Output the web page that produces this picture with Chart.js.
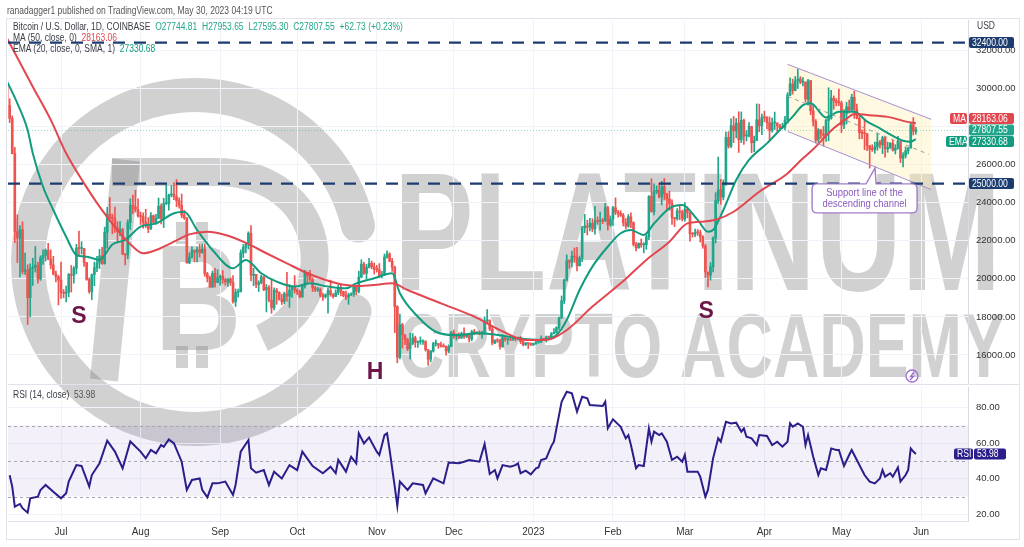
<!DOCTYPE html>
<html lang="en">
<head>
<meta charset="UTF-8">
<title>Bitcoin / U.S. Dollar, 1D, COINBASE</title>
<script src="https://cdn.jsdelivr.net/npm/chart.js@4.4.0/dist/chart.umd.min.js"></script>
<style>
  html, body { margin: 0; padding: 0; background: #fff; }
  body {
    width: 1024px; height: 547px; position: relative; overflow: hidden;
    font-family: 'Liberation Sans', Arial, sans-serif; color: #131722;
  }
  #wm { position: absolute; left: 0; top: 0; z-index: 0; }
  .frame { position: absolute; left: 6px; top: 18px; width: 1014px; height: 522px; border: 1px solid #e0e3eb; box-sizing: border-box; z-index: 1; }
  #priceBox { position: absolute; left: 8px; top: 20px; width: 1012px; height: 365px; z-index: 2; }
  #rsiBox { position: absolute; left: 8px; top: 387px; width: 1012px; height: 153px; z-index: 2; }
  .txt { position: absolute; white-space: nowrap; font-size: 10px; line-height: 12px; z-index: 3; color: #3a3d46;
         transform: scaleX(0.85); transform-origin: 0 50%; }
  .g { color: #22a68b; }
  .r { color: #e2474f; }
  .t { color: #129c7f; }
</style>
</head>
<body>
<canvas id="wm" width="1024" height="547"></canvas>
<div class="frame"></div>
<div id="priceBox"><canvas id="priceChart"></canvas></div>
<div id="rsiBox"><canvas id="rsiChart"></canvas></div>

<div class="txt" style="left:7px; top:4px; font-size:10.5px; color:#555; transform:scaleX(0.81);">ranadagger1 published on TradingView.com, May 30, 2023 04:19 UTC</div>
<div class="txt" style="left:13px; top:21px;">Bitcoin / U.S. Dollar, 1D, COINBASE&nbsp; <span class="g">O27744.81</span>&nbsp; <span class="g">H27953.65</span>&nbsp; <span class="g">L27595.30</span>&nbsp; <span class="g">C27807.55</span>&nbsp; <span class="g">+62.73 (+0.23%)</span></div>
<div class="txt" style="left:13px; top:32px;">MA (50, close, 0)&nbsp; <span class="r">28163.06</span></div>
<div class="txt" style="left:13px; top:43px;">EMA (20, close, 0, SMA, 1)&nbsp; <span class="t">27330.68</span></div>
<div class="txt" style="left:977px; top:20px;">USD</div>
<div class="txt" style="left:13px; top:389px;">RSI (14, close)&nbsp; <span style="color:#555;">53.98</span></div>

<script>
// day 0 = 1 Jul 2022, first candle = 10 Jun 2022
const firstDay = -21;
const firstOpen = 30100;

const closes = [
  // Jun 2022
  29090,28420,26570,22490,22140,22580,20390,20470,19010,20560,20590,20720,19990,21100,21230,21490,21030,20730,20260,20100,19930,
  // Jul
  19280,19240,19300,20230,20180,20550,21620,21590,21590,20850,19960,19330,20220,20590,20830,21200,20790,22430,23390,23230,23150,22680,22470,22580,21310,21250,22950,23850,23780,23640,23300,
  // Aug
  23270,22980,22820,22620,23310,22960,23180,23810,23160,23950,23950,24400,24440,24310,24100,23860,23340,23210,20830,21140,21510,21400,21530,21380,21560,20260,20040,19560,20290,19800,20050,
  // Sep
  20130,19950,19830,19990,19800,18790,19290,19320,21360,21650,21830,22390,20180,20240,19700,19800,20110,19420,19540,18880,18480,19400,19290,18930,18800,19220,19080,19410,19590,19420,
  // Oct
  19310,19050,19620,20340,20160,19960,19530,19420,19450,19130,19060,19160,19380,19180,19070,19270,19550,19330,19120,19040,19160,19200,19570,19330,20090,20770,20290,20600,20810,20630,20490,
  // Nov
  20480,20160,20210,21150,21300,20920,20600,18540,15880,17590,17050,16800,16330,16620,16900,16660,16690,16700,16700,16280,15780,16200,16600,16600,16520,16460,16440,16210,16440,17170,
  // Dec
  16980,17090,16890,17110,16970,17090,16840,17220,17130,17130,17090,17200,17790,17810,17360,16630,16780,16740,16440,16900,16820,16830,16780,16840,16830,16920,16700,16540,16630,16600,16530,
  // Jan 2023
  16610,16670,16670,16850,16830,16950,16940,17120,17190,17440,17940,18850,19930,20950,20880,21180,21140,20680,21070,22680,22780,22710,22920,22620,23060,23010,23080,23030,23740,22830,23130,
  // Feb
  23730,23490,23430,23330,22940,22760,23250,22960,21800,21630,21860,21780,21790,22200,24330,23520,24570,24640,24300,24840,24450,24190,23950,23200,23160,23560,23500,23140,
  // Mar
  23650,23480,22360,22350,22430,22420,22200,21720,20360,20190,20630,22140,24110,24670,24290,25040,27420,26960,28030,27770,28170,27300,28320,27490,27490,27990,27140,27260,28350,28030,28470,
  // Apr
  28460,28190,27800,28180,28180,28040,27920,27950,28340,29650,30230,29880,30390,30490,30320,30320,29440,30400,28820,28250,27280,27820,27600,27520,28310,28430,29480,29340,29250,29230,
  // May
  28070,28680,29030,28850,29530,28900,28430,27670,27630,27620,26990,26800,26790,26930,27170,27030,27400,26820,26890,27110,26750,26850,27230,26330,26480,26720,26870,28080,27744.81,27807.55
];

const highs = [
  30350,29450,28550,26900,23360,22800,22990,21350,20740,20790,21080,21700,20880,21210,21520,21570,21860,21520,21180,20400,20180,
  20880,19440,19620,20280,20700,20640,21810,22500,21950,21600,20860,20050,20250,20880,21180,21550,21650,22710,23750,24270,23400,23770,22990,23000,22650,21320,23100,24200,24400,24650,24200,
  23500,23460,23650,23210,23470,23350,23380,24240,23930,24230,24920,24450,24890,25050,25210,24250,24450,23590,23210,21370,21680,21490,21670,21810,21830,21810,20340,20140,20410,20550,20480,
  20200,20430,20030,20010,20050,20170,19470,19460,21520,21800,21850,22470,22790,20550,20200,19900,20190,20100,19700,19650,19960,19520,19500,19320,19190,19300,20340,19700,19630,20170,
  19480,19390,19700,20450,20360,20440,20040,19600,19550,19520,19250,19210,19500,19930,19230,19420,19680,19700,19350,19350,19250,19260,19690,19600,20400,21000,20870,20750,21080,20930,20830,
  20700,20800,20390,21300,21470,21370,21070,20670,18590,18150,17660,17070,16880,17150,17130,16990,16740,16950,16800,16750,16300,16240,16670,16790,16600,16680,16590,16480,16530,17240,
  17310,17100,17160,17200,17420,17100,17140,17300,17350,17230,17270,17240,18000,18390,17850,17530,16800,16860,16820,17060,16910,16860,16960,16870,16860,16940,16970,16780,16650,16640,16640,
  16620,16760,16760,17000,16880,17000,16970,17180,17390,17490,17990,19100,19990,21260,21000,21460,21620,21650,21190,22750,23380,23080,23170,23160,23800,23250,23500,23170,23960,23800,23300,
  23810,24250,23590,23570,23430,23160,23370,23460,22990,21920,21890,22090,21900,22320,24370,25250,24990,24880,25020,25120,25270,24480,24600,24140,23220,23690,23880,23600,
  24000,23780,23480,22420,22610,22590,22550,22270,21810,20300,20850,22200,24520,26390,25220,25190,27700,27720,28400,28520,28420,28770,28760,28380,27780,28200,28010,27490,29180,29170,28650,
  28800,28520,28500,28440,28750,28190,28110,28170,28530,29770,30550,30480,30620,31000,30610,30560,30340,30470,30410,29090,28360,27890,27820,28000,28380,30030,29890,29600,29460,29960,
  29330,28880,29270,29380,29690,29850,29170,28670,27820,28330,27620,26990,27040,27180,27650,27270,27480,27470,27180,27150,27260,27040,27480,27230,26620,26930,26890,28200,28460,27953.65
];

const lows = [
  28900,28200,26560,21900,20850,20100,20250,20230,17600,18000,19650,20350,19770,19920,20750,20930,21000,20520,20200,19840,18630,
  18970,19000,18780,19050,19300,19770,20260,21190,21300,20650,19920,19240,18910,19640,20380,20530,20750,20770,21600,23000,22360,22440,21960,22270,21260,20730,21050,22590,23420,23500,23230,
  22850,22660,22690,22420,22590,22930,22850,23150,22880,22690,23900,23600,24300,24150,23780,23710,23200,23120,20830,20800,21080,20890,20880,21140,21340,20130,19830,19560,19560,19560,19810,
  19660,19760,19660,19600,19650,18720,18550,19030,19310,21120,21360,21560,19890,19640,19540,19330,19740,19380,18260,18780,18190,18370,18660,18880,18650,18690,18830,18500,19020,19250,
  19170,19000,19030,19510,19760,19860,19330,19330,19330,19040,18870,18980,18200,19080,18980,19070,19160,19100,19050,18900,18660,19110,19070,19160,19250,20060,20230,20000,20570,20520,20250,
  20350,20060,20050,20180,21080,20900,20390,17170,15590,15800,16360,16540,16230,15800,16540,16410,16400,16560,16560,16200,15470,15640,16150,16470,16350,16410,16410,15990,16120,16430,
  16870,16790,16860,16880,16870,16910,16680,16740,17060,17090,17070,16870,17080,17660,17280,16530,16590,16660,16300,16400,16730,16560,16760,16790,16730,16790,16600,16480,16500,16340,16500,
  16500,16550,16610,16650,16750,16680,16910,16910,17100,17150,17320,17920,18700,19880,20550,20620,20860,20410,20670,20900,22420,22300,22510,22480,22340,22860,22550,22890,23010,22560,22750,
  22790,23370,23230,23270,22770,22630,22710,22680,21720,21460,21600,21650,21360,21550,22050,23500,23350,24470,24240,23880,24160,23610,23600,22860,22740,23080,23100,23030,
  23030,23200,21970,22190,22210,22270,21930,21600,20050,19570,19930,20360,21880,23960,23910,24140,24900,26860,26880,27150,27400,26630,27150,27050,27240,27450,26620,26670,27270,27720,27560,
  28250,27870,27270,27700,27830,27730,27800,27880,27810,28170,29610,29690,29870,29990,30240,30130,29270,29120,28610,28020,27130,27160,27350,26970,27210,27240,28380,28900,29080,29090,
  27670,27880,28130,28700,28800,28420,28390,27340,27360,26780,26720,25810,26690,26590,26750,26860,26570,26380,26640,26840,26700,26550,26800,26100,25870,26340,26560,26850,27550,27595.30
];

// MA (50): day, value
const maDays   = [-21, -11, -4, 2, 9, 15, 22, 28, 32, 37, 44, 50, 57, 64, 72, 80, 88, 96, 104, 111, 116, 122, 129, 135, 148, 161, 171, 181, 189, 197, 207, 218, 228, 237, 244, 249, 255, 262, 272, 283, 288, 293, 301, 306, 309, 314, 322, 331, 333];
const maValues = [32620, 30080, 28340, 26590, 25010, 23790, 22560, 21690, 21340, 21510, 21950, 22330, 22470, 22300, 21890, 21340, 20810, 20290, 19900, 19670, 19620, 19670, 19760, 19410, 18710, 18010, 17310, 16790, 16790, 17310, 18540, 19760, 20990, 21950, 22910, 22990, 23100, 23520, 24570, 25530, 26200, 26800, 27900, 28400, 28650, 28600, 28500, 28200, 28163.06];

// EMA (20)
const emaDays   = [-21, -17, -13, -11, -7, -3, 2, 6, 10, 15, 20, 25, 31, 37, 44, 48, 53, 59, 67, 72, 78, 84, 91, 97, 104, 111, 115, 122, 129, 132, 139, 146, 153, 163, 170, 178, 187, 193, 197, 202, 207, 213, 218, 222, 227, 231, 237, 242, 248, 252, 254, 258, 263, 268, 275, 280, 285, 289, 292, 298, 303, 309, 314, 319, 324, 328, 331, 333];
const emaValues = [30350, 29210, 27810, 26590, 24830, 23610, 22210, 21250, 21160, 20990, 21800, 22040, 22740, 22910, 23440, 23520, 22560, 21510, 20550, 20990, 20290, 19850, 19590, 19760, 19590, 19500, 19760, 20030, 20290, 19240, 18010, 17220, 17050, 17140, 17050, 16880, 16790, 17050, 17840, 19410, 20640, 21690, 22390, 22560, 22300, 22900, 23700, 23870, 23090, 22470, 22560, 23610, 25190, 26240, 27110, 27810, 28510, 29120, 29210, 28470, 28770, 28770, 28250, 27900, 27500, 27250, 27200, 27330.68];

// RSI (14)
const rsiDays = [-20,-19,-18,-16,-15,-13,-12,-9,-8,-6,-3,0,2,3,6,8,11,12,15,18,21,24,27,31,33,35,37,39,40,42,44,47,49,51,54,55,57,59,61,64,67,68,70,73,74,76,79,81,83,86,89,92,94,98,102,105,107,108,111,113,115,116,118,120,123,124,126,127,128,130,131,132,135,137,141,142,145,149,151,155,157,159,163,165,167,169,170,172,175,177,178,179,181,183,185,186,187,189,191,192,195,197,199,201,203,205,206,211,212,213,215,218,220,221,222,224,225,227,229,230,231,233,234,236,238,240,242,243,244,248,249,251,252,254,256,257,259,261,263,265,266,267,269,271,272,275,277,279,281,283,284,285,287,289,290,291,293,295,296,298,299,300,302,303,305,307,308,310,312,313,315,317,319,320,321,323,324,326,327,329,330,331,332,333];
const rsiValues = [42,35.6,24.3,25.8,23.4,20.9,29,29.9,33.7,36.5,32.7,29,31.8,38.4,47.7,47.2,35.6,42.1,48.7,61.4,55.3,45.9,61,55.3,51.5,56.2,54.3,59,58,62.2,59.9,49.6,33.7,39.3,40.2,33.7,29.5,37.4,37.4,38.4,30.9,36.5,55.3,61.8,45.9,43.4,44.9,36.5,44,40.2,47.7,44.9,55.3,47.2,43.1,46.8,43.1,50.6,44,52.4,48.7,65.6,59.9,63.3,55.3,53.4,64.6,65.6,56.2,35.6,24.7,38.4,33.7,37.4,36.5,31.8,40.2,37.4,49.1,48.7,49.6,50.6,49.6,59.6,42.7,44.9,40.2,47.7,46.8,47.7,48.7,43.1,44.6,42.5,45.9,46.4,50.6,51.5,58.4,60.9,83.4,89,88.1,77.8,86.2,85.3,81.5,81,83.4,68.4,73.5,69.3,62.8,64.6,59,45.9,47.7,47.2,68.4,60.9,66.5,64.6,65.6,60.9,50.6,52.4,49.6,53.4,44,44,41.2,29.9,33.7,51.5,62.8,60.9,72.1,71.2,71.6,66.5,68.4,63.7,62.8,59,64.6,64.1,59,60.9,58.1,60.9,71.2,69.3,71.2,69.3,59,64.6,52.4,42.1,45.9,44.9,50.6,57.1,56.2,56.2,47.2,53.4,56.2,50.6,44.9,42.1,38.4,37.4,40.2,44.9,41.2,43.1,41.2,46.4,38.4,42.1,44.9,57.1,55.3,53.98];

const monthTicks  = [0, 31, 62, 92, 123, 153, 184, 215, 243, 274, 304, 335];
const monthLabels = ['Jul', 'Aug', 'Sep', 'Oct', 'Nov', 'Dec', '2023', 'Feb', 'Mar', 'Apr', 'May', 'Jun'];
const priceTicks  = [16000, 18000, 20000, 22000, 24000, 26000, 28000, 30000, 32000];
const rsiTicks    = [20, 40, 60, 80];
const levels      = [32400, 25000];
const rsiBands    = [70, 50, 30];

// descending channel, drawn in data units (day, price)
const channelUpper = [[283, 31260], [339, 28370]];
const channelLower = [[283, 27740], [339, 24680]];
const channelMid   = [[283, 29580], [338, 26530]];
const calloutTip   = [317.1, 25820];
const patternMarks = [['S', 7, 18000], ['H', 122.3, 15060], ['S', 251.3, 18260]];

const UP = '#22a68b', DOWN = '#ef5350';
const MA_COLOR = '#e2474f', EMA_COLOR = '#129c7f', RSI_COLOR = '#2a1e8a', LEVEL = '#1c3c70';
const FONT = '"Liberation Sans", Arial, sans-serif';
const xMin = -20.65, xMax = 353.3;

const days  = closes.map((_, i) => firstDay + i);
const opens = closes.map((c, i) => i === 0 ? firstOpen : closes[i - 1]);
const candleColors = closes.map((c, i) => c >= opens[i] ? UP : DOWN);
const lastClose = closes[closes.length - 1];

function noPad(s) { s.paddingTop = 0; s.paddingBottom = 0; s.paddingLeft = 0; s.paddingRight = 0; }

function monthAxis(showLabels) {
  return {
    type: 'linear', min: xMin, max: xMax, offset: false,
    grid: { color: '#f0f3fa', drawTicks: false, offset: false },
    border: { display: showLabels, color: '#e0e3eb' },
    afterBuildTicks: s => { s.ticks = monthTicks.map(v => ({ value: v })); },
    afterFit: s => { s.height = showLabels ? 19 : 0; noPad(s); },
    ticks: {
      display: showLabels, autoSkip: false, maxRotation: 0, padding: 5,
      color: '#333', font: { family: FONT, size: 10 },
      callback: v => monthLabels[monthTicks.indexOf(v)] || ''
    }
  };
}

// condensed canvas text, like the narrow lettering of the original
function narrowText(ctx, text, x, y, sx) {
  ctx.save();
  ctx.translate(x, y);
  ctx.scale(sx, 1);
  ctx.fillText(text, 0, 0);
  ctx.restore();
}

function tagBox(ctx, x, yc, w, color, text) {
  ctx.fillStyle = color;
  ctx.beginPath();
  ctx.roundRect(x, yc - 5.5, w, 11, 2);
  ctx.fill();
  ctx.fillStyle = '#fff';
  ctx.textAlign = 'left';
  ctx.textBaseline = 'middle';
  narrowText(ctx, text, x + 3, yc + 0.5, 0.86);
}

const pricePlugin = {
  id: 'priceDecor',
  beforeDatasetsDraw(chart) {
    const { ctx, scales: { x, y } } = chart;
    ctx.save();
    ctx.beginPath();
    ctx.moveTo(x.getPixelForValue(channelUpper[0][0]), y.getPixelForValue(channelUpper[0][1]));
    ctx.lineTo(x.getPixelForValue(channelUpper[1][0]), y.getPixelForValue(channelUpper[1][1]));
    ctx.lineTo(x.getPixelForValue(channelLower[1][0]), y.getPixelForValue(channelLower[1][1]));
    ctx.lineTo(x.getPixelForValue(channelLower[0][0]), y.getPixelForValue(channelLower[0][1]));
    ctx.closePath();
    ctx.fillStyle = 'rgba(255, 238, 170, 0.35)';
    ctx.fill();
    // last price line
    ctx.strokeStyle = 'rgba(34, 166, 139, 0.45)';
    ctx.lineWidth = 1;
    ctx.setLineDash([1, 2]);
    const yc = Math.round(y.getPixelForValue(lastClose)) + 0.5;
    ctx.beginPath();
    ctx.moveTo(chart.chartArea.left, yc);
    ctx.lineTo(chart.chartArea.right, yc);
    ctx.stroke();
    ctx.restore();
  },
  afterDatasetsDraw(chart) {
    const { ctx, chartArea: a, scales: { x, y } } = chart;
    ctx.save();
    // channel lines
    ctx.strokeStyle = '#a58fd0';
    ctx.lineWidth = 1;
    [channelUpper, channelLower].forEach(l => {
      ctx.beginPath();
      ctx.moveTo(x.getPixelForValue(l[0][0]), y.getPixelForValue(l[0][1]));
      ctx.lineTo(x.getPixelForValue(l[1][0]), y.getPixelForValue(l[1][1]));
      ctx.stroke();
    });
    ctx.strokeStyle = '#9a9aa2';
    ctx.setLineDash([4, 4]);
    ctx.beginPath();
    ctx.moveTo(x.getPixelForValue(channelMid[0][0]), y.getPixelForValue(channelMid[0][1]));
    ctx.lineTo(x.getPixelForValue(channelMid[1][0]), y.getPixelForValue(channelMid[1][1]));
    ctx.stroke();

    // horizontal levels
    ctx.strokeStyle = LEVEL;
    ctx.lineWidth = 2.2;
    ctx.setLineDash([12, 9]);
    levels.forEach(v => {
      const py = y.getPixelForValue(v);
      ctx.beginPath();
      ctx.moveTo(a.left, py);
      ctx.lineTo(a.right, py);
      ctx.stroke();
    });
    ctx.setLineDash([]);

    // callout
    const tx = x.getPixelForValue(calloutTip[0]), ty = y.getPixelForValue(calloutTip[1]);
    const bx = tx - 63, by = ty + 16, bw = 105, bh = 29;
    ctx.fillStyle = '#fff';
    ctx.strokeStyle = '#a27dca';
    ctx.lineWidth = 1.4;
    ctx.beginPath();
    ctx.moveTo(bx + 5, by);
    ctx.lineTo(tx - 9, by);
    ctx.lineTo(tx, ty);
    ctx.lineTo(tx + 1, by);
    ctx.lineTo(bx + bw - 5, by);
    ctx.quadraticCurveTo(bx + bw, by, bx + bw, by + 5);
    ctx.lineTo(bx + bw, by + bh - 5);
    ctx.quadraticCurveTo(bx + bw, by + bh, bx + bw - 5, by + bh);
    ctx.lineTo(bx + 5, by + bh);
    ctx.quadraticCurveTo(bx, by + bh, bx, by + bh - 5);
    ctx.lineTo(bx, by + 5);
    ctx.quadraticCurveTo(bx, by, bx + 5, by);
    ctx.closePath();
    ctx.fill();
    ctx.stroke();
    ctx.fillStyle = '#8a5cbf';
    ctx.font = '11px ' + FONT;
    ctx.textAlign = 'center';
    ctx.textBaseline = 'middle';
    narrowText(ctx, 'Support line of the', bx + bw / 2, by + 9, 0.86);
    narrowText(ctx, 'descending channel', bx + bw / 2, by + 20, 0.86);

    // pattern letters
    ctx.fillStyle = '#6d1649';
    ctx.font = 'bold 23px ' + FONT;
    patternMarks.forEach(([t, d, p]) => ctx.fillText(t, x.getPixelForValue(d), y.getPixelForValue(p)));

    // small icon near bottom right
    const ix = x.getPixelForValue(331.5), iy = a.bottom - 9;
    ctx.strokeStyle = '#9b6fd0';
    ctx.lineWidth = 1.3;
    ctx.beginPath();
    ctx.arc(ix, iy, 6, 0, Math.PI * 2);
    ctx.stroke();
    ctx.beginPath();
    ctx.moveTo(ix + 2, iy - 4); ctx.lineTo(ix - 1.5, iy + 0.5); ctx.lineTo(ix + 1.5, iy + 0.5); ctx.lineTo(ix - 2, iy + 4);
    ctx.stroke();
    ctx.restore();
  },
  afterDraw(chart) {
    const { ctx, chartArea: a, scales: { y } } = chart;
    ctx.save();
    // panel bottom separator
    ctx.strokeStyle = '#e0e3eb';
    ctx.lineWidth = 1;
    ctx.beginPath();
    ctx.moveTo(0, a.bottom - 0.5);
    ctx.lineTo(chart.width, a.bottom - 0.5);
    ctx.stroke();
    ctx.font = '10px ' + FONT;
    const ax = a.right + 1;
    levels.forEach(v => tagBox(ctx, ax, y.getPixelForValue(v), 45, LEVEL, v.toFixed(2)));
    const yClose = y.getPixelForValue(lastClose);
    const yMa = Math.min(y.getPixelForValue(maValues[maValues.length - 1]), yClose - 11.5);
    const yEma = Math.max(y.getPixelForValue(emaValues[emaValues.length - 1]), yClose + 11.5);
    tagBox(ctx, ax, yMa, 45, MA_COLOR, maValues[maValues.length - 1].toFixed(2));
    tagBox(ctx, ax - 19, yMa, 17, MA_COLOR, 'MA');
    tagBox(ctx, ax, yClose, 45, UP, lastClose.toFixed(2));
    tagBox(ctx, ax, yEma, 45, EMA_COLOR, emaValues[emaValues.length - 1].toFixed(2));
    tagBox(ctx, ax - 23, yEma, 21, EMA_COLOR, 'EMA');
    ctx.restore();
  }
};

const rsiPlugin = {
  id: 'rsiDecor',
  beforeDatasetsDraw(chart) {
    const { ctx, chartArea: a, scales: { y } } = chart;
    ctx.save();
    ctx.fillStyle = 'rgba(126, 87, 194, 0.09)';
    const top = y.getPixelForValue(rsiBands[0]), bot = y.getPixelForValue(rsiBands[2]);
    ctx.fillRect(a.left, top, a.right - a.left, bot - top);
    ctx.strokeStyle = '#a3a6ae';
    ctx.lineWidth = 1;
    ctx.setLineDash([3, 3]);
    rsiBands.forEach(v => {
      const py = Math.round(y.getPixelForValue(v)) + 0.5;
      ctx.beginPath();
      ctx.moveTo(a.left, py);
      ctx.lineTo(a.right, py);
      ctx.stroke();
    });
    ctx.restore();
  },
  afterDraw(chart) {
    const { ctx, chartArea: a, scales: { y } } = chart;
    ctx.save();
    ctx.font = '10px ' + FONT;
    const v = rsiValues[rsiValues.length - 1];
    const py = y.getPixelForValue(v);
    tagBox(ctx, a.right + 6, py, 32, RSI_COLOR, v.toFixed(2));
    tagBox(ctx, a.right - 14, py, 19, RSI_COLOR, 'RSI');
    ctx.restore();
  }
};

function drawWatermark() {
  const ctx = document.getElementById('wm').getContext('2d');
  ctx.fillStyle = 'rgba(120, 120, 120, 0.34)';
  ctx.strokeStyle = 'rgba(120, 120, 120, 0.34)';
  // ring
  ctx.lineWidth = 34;
  ctx.lineCap = 'round';
  ctx.beginPath();
  ctx.arc(195, 262, 167, 0.3, Math.PI * 2 - 0.22);
  ctx.stroke();
  // D shape
  ctx.lineWidth = 28;
  ctx.lineCap = 'butt';
  ctx.beginPath();
  ctx.moveTo(112, 172);
  ctx.lineTo(215, 172);
  ctx.bezierCurveTo(330, 172, 345, 300, 262, 338);
  ctx.stroke();
  ctx.beginPath();
  ctx.moveTo(126, 160);
  ctx.lineTo(104, 380);
  ctx.stroke();
  // bitcoin B
  ctx.font = 'bold 150px ' + FONT;
  ctx.textAlign = 'center';
  ctx.textBaseline = 'alphabetic';
  narrowText(ctx, 'B', 198, 350, 0.8);
  ctx.fillRect(176, 222, 12, 22);
  ctx.fillRect(196, 222, 12, 22);
  ctx.fillRect(176, 346, 12, 22);
  ctx.fillRect(196, 346, 12, 22);
  // text
  ctx.textAlign = 'left';
  const fit = (t, size, x, base, w) => {
    ctx.font = 'bold ' + size + 'px ' + FONT;
    const m = ctx.measureText(t).width;
    narrowText(ctx, t, x, base, w / m);
  };
  fit('PLATINUM', 168, 394, 290, 607);
  fit('CRYPTO ACADEMY', 90, 398, 377, 607);
}

drawWatermark();

new Chart(document.getElementById('priceChart'), {
  type: 'bar',
  data: {
    datasets: [
      { type: 'line', label: 'MA', data: maDays.map((d, i) => ({ x: d, y: maValues[i] })),
        borderColor: MA_COLOR, borderWidth: 2, pointRadius: 0, cubicInterpolationMode: 'monotone' },
      { type: 'line', label: 'EMA', data: emaDays.map((d, i) => ({ x: d, y: emaValues[i] })),
        borderColor: EMA_COLOR, borderWidth: 2, pointRadius: 0, cubicInterpolationMode: 'monotone' },
      { label: 'body', data: days.map((d, i) => ({ x: d, y: [opens[i], closes[i]] })),
        backgroundColor: candleColors, barThickness: 2, minBarLength: 1, grouped: false },
      { label: 'wick', data: days.map((d, i) => ({ x: d, y: [lows[i], highs[i]] })),
        backgroundColor: candleColors, barThickness: 1, grouped: false }
    ]
  },
  options: {
    responsive: true, maintainAspectRatio: false, animation: false,
    layout: { padding: 0 },
    plugins: { legend: { display: false }, tooltip: { enabled: false } },
    scales: {
      x: monthAxis(false),
      y: {
        position: 'right', min: 14425, max: 33585,
        grid: { color: '#f0f3fa', drawTicks: false },
        border: { display: true, color: '#d6dae3' },
        afterBuildTicks: s => { s.ticks = priceTicks.map(v => ({ value: v })); },
        afterFit: s => { s.width = 52; noPad(s); },
        ticks: { padding: 8, color: '#333', font: { family: FONT, size: 9.5 },
                 callback: v => v === 28000 ? '' : v.toFixed(2) }
      }
    }
  },
  plugins: [pricePlugin]
});

new Chart(document.getElementById('rsiChart'), {
  type: 'line',
  data: {
    datasets: [
      { label: 'RSI', data: rsiDays.map((d, i) => ({ x: d, y: rsiValues[i] })),
        borderColor: RSI_COLOR, borderWidth: 2, pointRadius: 0, tension: 0 }
    ]
  },
  options: {
    responsive: true, maintainAspectRatio: false, animation: false,
    layout: { padding: 0 },
    plugins: { legend: { display: false }, tooltip: { enabled: false } },
    scales: {
      x: monthAxis(true),
      y: {
        position: 'right', min: 16.2, max: 91.7,
        grid: { color: '#f0f3fa', drawTicks: false },
        border: { display: true, color: '#d6dae3' },
        afterBuildTicks: s => { s.ticks = rsiTicks.map(v => ({ value: v })); },
        afterFit: s => { s.width = 52; noPad(s); },
        ticks: { padding: 8, color: '#333', font: { family: FONT, size: 9.5 },
                 callback: v => v.toFixed(2) }
      }
    }
  },
  plugins: [rsiPlugin]
});
</script>
</body>
</html>
